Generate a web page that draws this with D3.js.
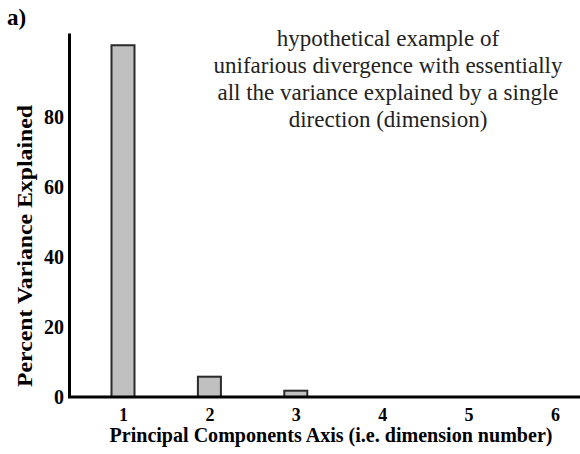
<!DOCTYPE html>
<html>
<head>
<meta charset="utf-8">
<script src="https://cdn.jsdelivr.net/npm/d3@7"></script>
<style>
  body { margin: 0; background: #fff; }
  svg text { font-family: "Liberation Serif", "Times New Roman", Times, serif; }
</style>
</head>
<body>
<div id="chart"></div>
<script>
// données
const dimensions = [1, 2, 3, 4, 5, 6];
const variance = [100.5, 5.8, 1.8, 0, 0, 0];
const yTicks = [0, 20, 40, 60, 80];
const noteLines = [
  "hypothetical example of",
  "unifarious divergence with essentially",
  "all the variance explained by a single",
  "direction (dimension)"
];

const width = 580;
const height = 454;
const serif = "'Liberation Serif', 'Times New Roman', serif";

const svg = d3.select("#chart").append("svg")
  .attr("width", width)
  .attr("height", height);

// échelles
const x = d3.scaleLinear().domain([1, 6]).range([123, 555]);
const y = d3.scaleLinear().domain([0, 104]).range([397, 33]);
const barW = 23;

// barres (les dimensions 4 à 6 sont à zéro)
svg.append("g")
  .selectAll("rect")
  .data(dimensions.map((d, i) => ({ dim: d, v: variance[i] })).filter(d => d.v > 0))
  .join("rect")
  .attr("x", d => x(d.dim) - barW / 2)
  .attr("y", d => y(d.v))
  .attr("width", barW)
  .attr("height", d => y(0) - y(d.v))
  .attr("fill", "#c0c0c0")
  .attr("stroke", "#2a2a2a")
  .attr("stroke-width", 2);

// axe Y
const yAxis = svg.append("g")
  .attr("transform", "translate(69,0)")
  .attr("font-family", serif)
  .call(d3.axisLeft(y).tickValues(yTicks).tickSize(0).tickPadding(5).tickFormat(d3.format("d")));
yAxis.select(".domain").attr("stroke", "#000").attr("stroke-width", 3);
yAxis.selectAll("text")
  .style("font-family", serif)
  .style("font-weight", "bold")
  .style("font-size", "20px")
  .attr("dy", "0.3em");

// axe X
const xAxis = svg.append("g")
  .attr("transform", "translate(0,397)")
  .attr("font-family", serif)
  .call(d3.axisBottom(x).tickValues(dimensions).tickSize(0).tickPadding(11).tickFormat(d3.format("d")));
xAxis.select(".domain").attr("d", "M68,0H580").attr("stroke", "#000").attr("stroke-width", 3);
xAxis.selectAll("text")
  .style("font-family", serif)
  .style("font-weight", "bold")
  .style("font-size", "18px");

// titres des axes
svg.append("text")
  .attr("x", 331)
  .attr("y", 442)
  .attr("text-anchor", "middle")
  .attr("textLength", 443)
  .attr("lengthAdjust", "spacingAndGlyphs")
  .style("font-family", serif)
  .style("font-weight", "bold")
  .style("font-size", "21px")
  .text("Principal Components Axis (i.e. dimension number)");

svg.append("text")
  .attr("transform", "translate(32,246) rotate(-90)")
  .attr("text-anchor", "middle")
  .attr("textLength", 282)
  .attr("lengthAdjust", "spacingAndGlyphs")
  .style("font-family", serif)
  .style("font-weight", "bold")
  .style("font-size", "22px")
  .text("Percent Variance Explained");

// étiquette du panneau
svg.append("text")
  .attr("x", 7)
  .attr("y", 25)
  .style("font-family", serif)
  .style("font-weight", "bold")
  .style("font-size", "23px")
  .text("a)");

// note
svg.append("g")
  .selectAll("text")
  .data(noteLines)
  .join("text")
  .attr("x", 388)
  .attr("y", (d, i) => 46 + i * 27)
  .attr("text-anchor", "middle")
  .style("font-family", serif)
  .style("font-size", "23px")
  .attr("fill", "#222")
  .text(d => d);
</script>
</body>
</html>
